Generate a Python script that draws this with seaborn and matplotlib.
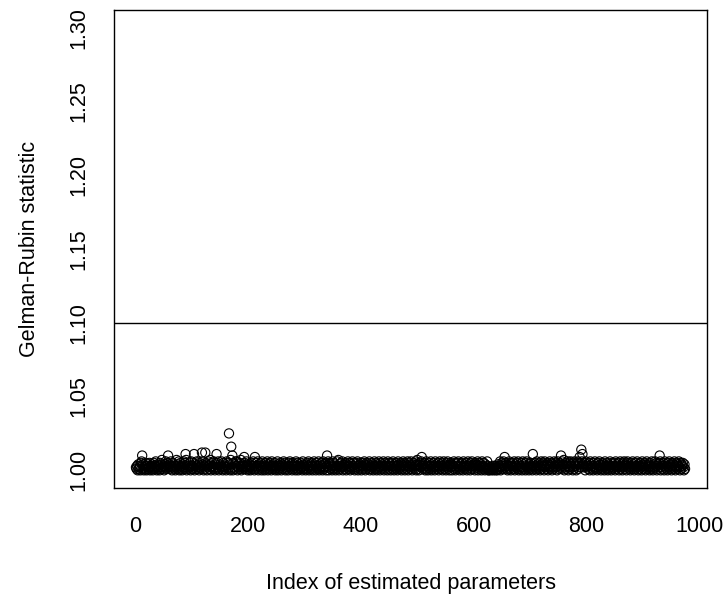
import numpy as np
import pandas as pd
import matplotlib
matplotlib.use("Agg")
import matplotlib.pyplot as plt
import seaborn as sns

# Gelman-Rubin statistic per parameter, stored as thousandths above 1.000
gr_thousandths_rows = [
    "2130412305 6214023150 3412502314 0251362041 2305147213 0426135024 1362052413 0271436025 1304261537 0214352061",
    "3125041362 1405231746 0312540263 1470253162 0413526014 2361053142 0625134072 1305241636 0241537021 4305126403",
    "1240351263 0415236014 2530612403 5126034152 0631425013 2604135204 3162504132 0536214053 1420635102 4315206413",
    "2041536021 4350126430 5213604125 3061425031 2605413206 1543021637 0412536024 1350426135 0241635201 4526031425",
    "0315264013 5241603152 4036125041 3620514326 0153420615 3402516304 2153064132 5041635024 1360524163 0425136047",
    "1304526031 4250163402 5136041253 0624135026 1435026143 0526130452 4031625041 3562014352 0613425016 3420516324",
    "1053426015 3240613520 4126300121 0213012302 1042136025 1463025140 3261504325 1604235160 4132506241 3056213042",
    "5130642513 0624153026 1453062413 5042613504 2163524061 3452016347 0215436025 1643205164 3025614352 0614325063",
    "2413506241 3052614203 5162403152 4063125041 3620514235 0612435026 1340526134 0562413025 1634021536 2041352064",
    "1325046132 4051362014 2635014253 6024135062 4130526143 0254163025 1436205143 52041",
]
# Larger values that stand out above the band
peak_index = [12, 58, 89, 104, 118, 124, 144, 166, 170, 172, 193, 212, 340, 508, 655, 705, 755, 788, 791, 793, 930]
peak_value = [1.010, 1.010, 1.011, 1.011, 1.012, 1.012, 1.011, 1.025, 1.016, 1.010, 1.009, 1.009,
              1.010, 1.009, 1.009, 1.011, 1.010, 1.009, 1.014, 1.011, 1.010]
threshold = 1.10
x_ticks = [0, 200, 400, 600, 800, 1000]
y_ticks = [1.00, 1.05, 1.10, 1.15, 1.20, 1.25, 1.30]

digits = "".join("".join(r.split()) for r in gr_thousandths_rows)
values = np.array([1.0 + int(d) / 1000.0 for d in digits])
for i, v in zip(peak_index, peak_value):
    values[i - 1] = v
df = pd.DataFrame({"index": np.arange(1, len(values) + 1), "gr": values})

sns.set_style("white")
plt.rcParams["font.family"] = ["Liberation Sans", "DejaVu Sans"]
plt.rcParams["text.color"] = "black"
plt.rcParams["axes.labelcolor"] = "black"

fig = plt.figure(figsize=(7.23, 6.02), dpi=100)
ax = fig.add_axes([114 / 723, 114 / 602, (707 - 114) / 723, (488 - 10) / 602])

sns.scatterplot(data=df, x="index", y="gr", ax=ax, marker="o", s=44,
                facecolor="none", edgecolor="black", linewidth=0.8, legend=False)
ax.axhline(threshold, color="black", linewidth=1.0)

n = len(values)
r = n - 1
ax.set_xlim(1 - 0.04 * r, n + 0.04 * r)
ax.set_ylim(1.0 - 0.04 * 0.3, 1.3 + 0.04 * 0.3)
ax.set_xticks(x_ticks)
ax.set_xticklabels([str(t) for t in x_ticks])
ax.set_yticks(y_ticks)
ax.set_yticklabels([f"{t:.2f}" for t in y_ticks], rotation=90, va="center")

for s in ax.spines.values():
    s.set_visible(True)
    s.set_color("black")
    s.set_linewidth(1.0)
ax.tick_params(direction="out", length=7, width=0.9, colors="black", labelsize=15.5)
ax.tick_params(axis="x", pad=13)
ax.tick_params(axis="y", pad=11)
ax.set_xlabel("Index of estimated parameters", fontsize=15.5, labelpad=26, color="black")
ax.set_ylabel("Gelman-Rubin statistic", fontsize=15.5, labelpad=20, color="black")

fig.savefig("out.png", dpi=100)
